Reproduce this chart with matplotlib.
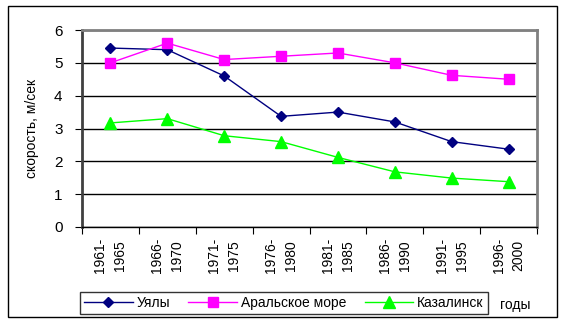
import matplotlib.pyplot as plt
from matplotlib.patches import Rectangle

plt.rcParams['font.family'] = ['Liberation Sans', 'DejaVu Sans']

periods = ['1961-\n1965', '1966-\n1970', '1971-\n1975', '1976-\n1980',
           '1981-\n1985', '1986-\n1990', '1991-\n1995', '1996-\n2000']
uyaly = [5.45, 5.4, 4.6, 3.37, 3.5, 3.2, 2.6, 2.37]
aral_sea = [5.0, 5.6, 5.1, 5.2, 5.3, 5.0, 4.62, 4.5]
kazalinsk = [3.17, 3.3, 2.78, 2.6, 2.12, 1.68, 1.49, 1.38]

W, H = 567, 325
fig = plt.figure(figsize=(W / 100, H / 100), dpi=100)
ax = fig.add_axes([82 / W, 1 - 227 / H, (537 - 82) / W, (227 - 30) / H])

x = list(range(len(periods)))
ax.plot(x, uyaly, color='#000080', marker='D', markersize=5, lw=1, label='Уялы')
ax.plot(x, aral_sea, color='#FF00FF', marker='s', markersize=7, lw=1, label='Аральское море')
ax.plot(x, kazalinsk, color='#00FF00', marker='^', markersize=8, lw=1, label='Казалинск')

ax.set_xlim(-0.5, len(periods) - 0.5)
ax.set_ylim(0, 6)
ax.set_yticks(range(7))
ax.yaxis.grid(True, color='black', lw=1)
ax.set_axisbelow(True)

# category ticks sit between the groups, labels in the middle
ax.set_xticks([i - 0.5 for i in range(len(periods) + 1)])
ax.set_xticklabels([])
ax.set_xticks(x, minor=True)
ax.set_xticklabels(periods, minor=True, rotation=90, fontsize=10,
                   va='top', ha='center', linespacing=1.55)
ax.tick_params(axis='x', which='minor', length=0, pad=8)
ax.tick_params(axis='x', which='major', length=5, direction='out', color='black')
ax.tick_params(axis='y', length=5, direction='out', labelsize=11, pad=9)

for s in ('top', 'right'):
    ax.spines[s].set_color('#808080')
    ax.spines[s].set_linewidth(2)
ax.spines['left'].set_color('#404040')
ax.spines['left'].set_linewidth(2)
ax.spines['bottom'].set_color('black')
ax.spines['bottom'].set_linewidth(1)

ax.set_ylabel('скорость, м/сек', fontsize=10, labelpad=11)

leg = fig.legend(loc='lower left', bbox_to_anchor=(80 / W, 1 - 314 / H, (488 - 80) / W, (314 - 287) / H),
                 ncol=3, mode='expand', fontsize=10, frameon=True, fancybox=False,
                 edgecolor='black', borderaxespad=0, handlelength=3.5, handletextpad=0.3,
                 columnspacing=0.8, borderpad=0.3)
leg.get_frame().set_linewidth(1)

fig.text(500 / W, 1 - 305 / H, 'годы', fontsize=10, va='center', ha='left')

fig.patches.append(Rectangle((8 / W, 1 - 317 / H), (557 - 8) / W, (317 - 6) / H,
                             transform=fig.transFigure, fill=False, edgecolor='black', lw=1))

fig.savefig('out.png', dpi=100)
